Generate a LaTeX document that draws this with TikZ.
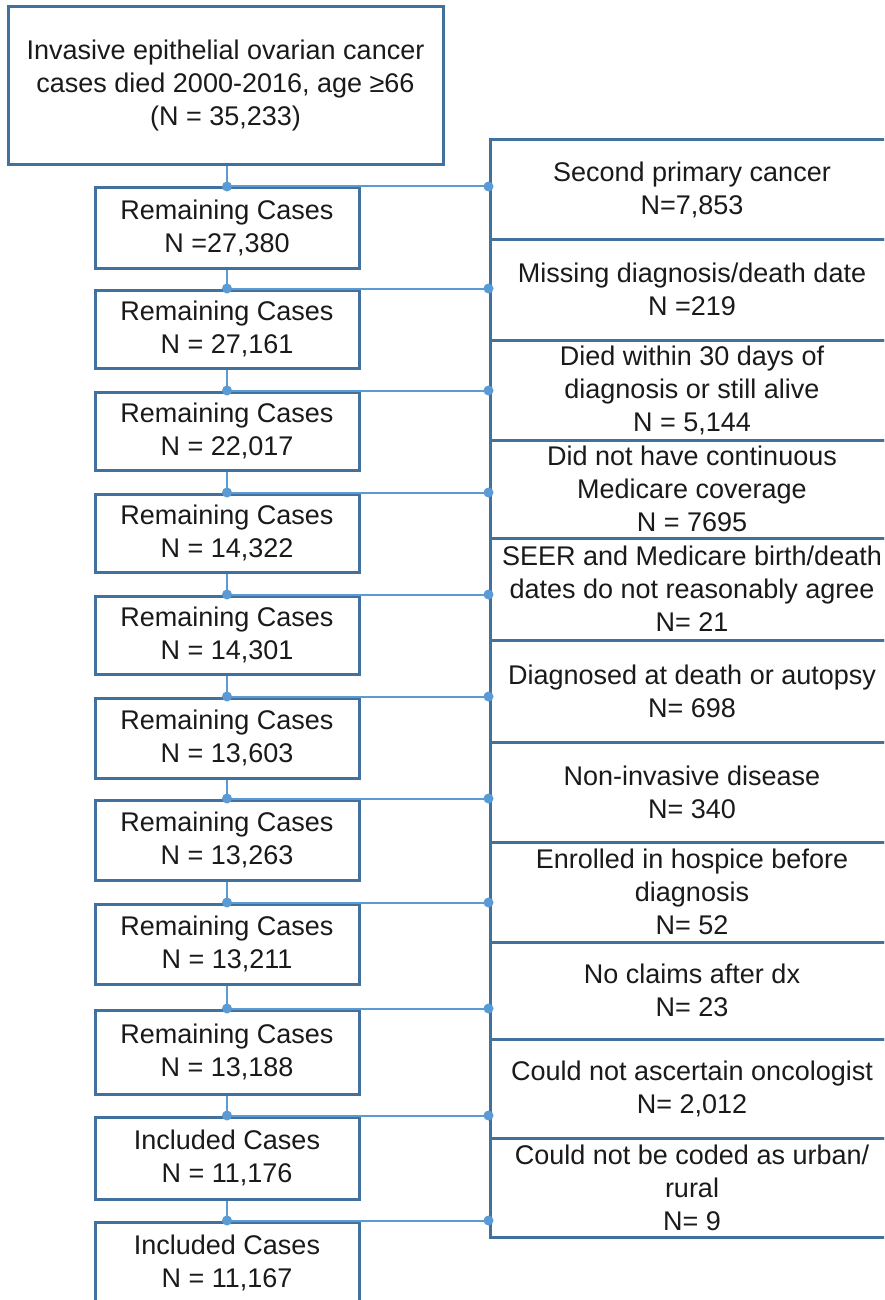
\documentclass[tikz,border=0pt]{standalone}
\usepackage{fontspec}
\setmainfont{Liberation Sans}
\definecolor{boxblue}{HTML}{41719C}
\definecolor{lineblue}{HTML}{5B9BD5}
\definecolor{txt}{HTML}{1A1A1A}
\begin{document}
\begin{tikzpicture}[x=1pt,y=-1pt,
  every node/.style={font=\fontsize{27}{33}\selectfont, text=txt, align=center, inner sep=0pt},
  lbox/.style={draw=boxblue, line width=3pt, minimum width=264pt},
  rbox/.style={draw=boxblue, line width=3pt, minimum width=404pt},
  conn/.style={draw=lineblue, line width=2pt}
]
\useasboundingbox (0,0) rectangle (884,1300);
\clip (0,0) rectangle (884,1300);
\fill[white] (0,0) rectangle (884,1300);

% top box
\node[lbox, minimum width=435pt, minimum height=158pt] (top) at (225.5,86)
  {Invasive epithelial ovarian cancer\\cases died 2000-2016, age ≥66\\(N = 35,233)};

% left column
\node[lbox, minimum height=80pt] (l1) at (227,228) {Remaining Cases\\N =27,380};
\node[lbox, minimum height=78pt] (l2) at (227,329) {Remaining Cases\\N = 27,161};
\node[lbox, minimum height=78pt] (l3) at (227,431) {Remaining Cases\\N = 22,017};
\node[lbox, minimum height=78pt] (l4) at (227,533) {Remaining Cases\\N = 14,322};
\node[lbox, minimum height=78pt] (l5) at (227,635) {Remaining Cases\\N = 14,301};
\node[lbox, minimum height=80pt] (l6) at (227,738) {Remaining Cases\\N = 13,603};
\node[lbox, minimum height=80pt] (l7) at (227,840) {Remaining Cases\\N = 13,263};
\node[lbox, minimum height=80pt] (l8) at (227,944) {Remaining Cases\\N = 13,211};
\node[lbox, minimum height=84pt] (l9) at (227,1052) {Remaining Cases\\N = 13,188};
\node[lbox, minimum height=82pt] (l10) at (227,1158) {Included Cases\\N = 11,176};
\node[lbox, minimum height=82pt] (l11) at (227,1263) {Included Cases\\N = 11,167};

% right column
\node[rbox, minimum height=99pt] (r1) at (692,189.5) {Second primary cancer\\N=7,853};
\node[rbox, minimum height=101pt] (r2) at (692,289.5) {Missing diagnosis/death date\\N =219};
\node[rbox, minimum height=100pt] (r3) at (692,390) {Died within 30 days of\\diagnosis or still alive\\N = 5,144};
\node[rbox, minimum height=98pt] (r4) at (692,489) {Did not have continuous\\Medicare coverage\\N = 7695};
\node[rbox, minimum height=102pt] (r5) at (692,589) {SEER and Medicare birth/death\\dates do not reasonably agree\\N= 21};
\node[rbox, minimum height=102pt] (r6) at (692,691) {Diagnosed at death or autopsy\\N= 698};
\node[rbox, minimum height=100pt] (r7) at (692,792) {Non-invasive disease\\N= 340};
\node[rbox, minimum height=100pt] (r8) at (692,892) {Enrolled in hospice before\\diagnosis\\N= 52};
\node[rbox, minimum height=97pt] (r9) at (692,990.5) {No claims after dx\\N= 23};
\node[rbox, minimum height=99pt] (r10) at (692,1088.5) {Could not ascertain oncologist\\N= 2,012};
\node[rbox, minimum height=99pt] (r11) at (692,1187.5) {Could not be coded as urban/\\rural\\N= 9};

% vertical connectors
\draw[conn] (top.south -| l1.north) -- (l1.north);
\foreach \a/\b in {l1/l2,l2/l3,l3/l4,l4/l5,l5/l6,l6/l7,l7/l8,l8/l9,l9/l10,l10/l11}
  \draw[conn] (\a.south) -- (\b.north);

% horizontal connectors with junction dots
\foreach \i in {1,...,11} {
  \draw[conn] (l\i.north) -- (l\i.north -| r\i.west);
  \fill[lineblue] (l\i.north) circle (5pt);
  \fill[lineblue] (l\i.north -| r\i.west) circle (5pt);
}
\end{tikzpicture}
\end{document}
